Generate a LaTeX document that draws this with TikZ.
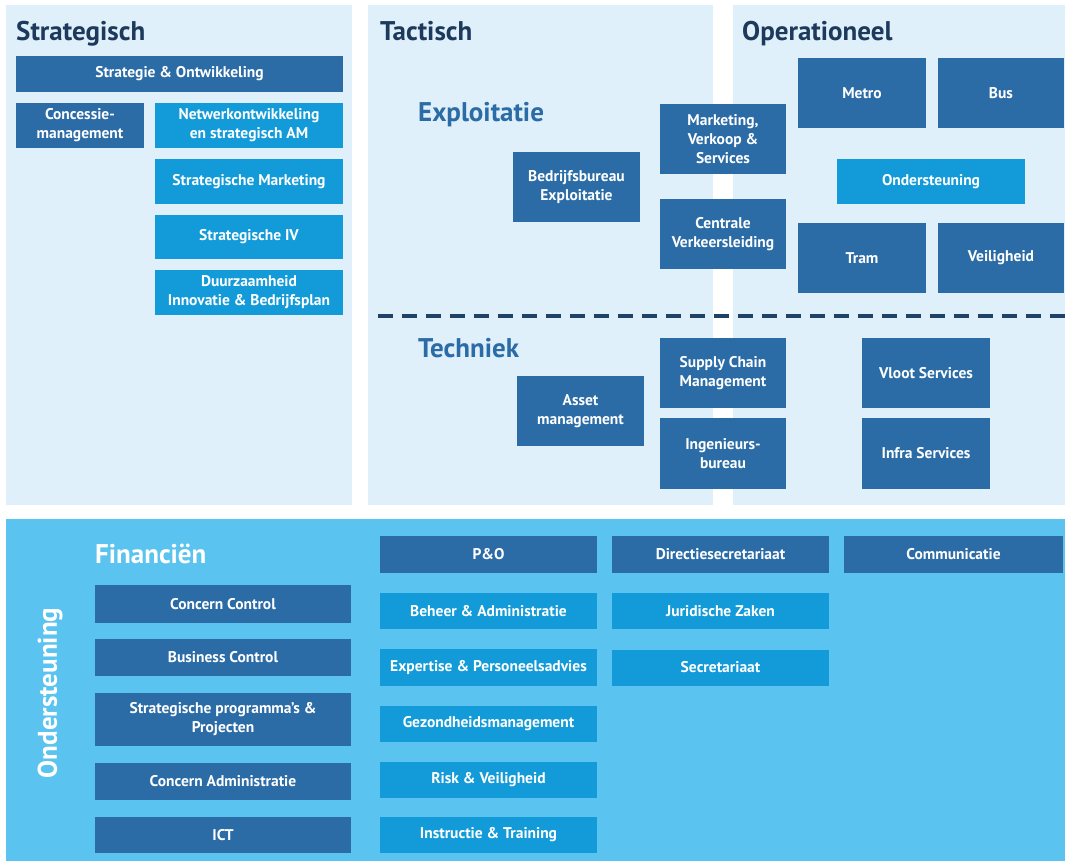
\documentclass[tikz,border=0pt]{standalone}
\usepackage{fontspec}
\setmainfont{PT Sans}
\usepackage{tikz}
\usetikzlibrary{positioning}
\definecolor{panellight}{HTML}{DFF0FB}
\definecolor{panelsupport}{HTML}{5BC3EF}
\definecolor{unitdark}{HTML}{2B6CA6}
\definecolor{unitbright}{HTML}{129BD8}
\definecolor{titlenavy}{HTML}{1D3A5C}
\tikzset{
x=1pt, y=-1pt, % one unit is one pixel of the layout
unit/.style={rectangle, fill=unitdark, text=white, inner sep=1pt, align=center, font=\bfseries\fontsize{15.5}{19}\selectfont}, % sets the properties for each department box
subunit/.style={unit, fill=unitbright}, % lighter boxes
wide/.style={minimum width=#1pt},
tall/.style={minimum height=#1pt},
layer/.style={anchor=base west, inner sep=0pt, text=titlenavy, font=\bfseries\fontsize{27}{30}\selectfont}, % headings of the three levels
cluster/.style={layer, text=unitdark}, % Exploitatie and Techniek
}

\begin{document}
\begin{tikzpicture}
      \useasboundingbox (0,0) rectangle (1065,861);
      \fill[white] (0,0) rectangle (1065,861);
      \fill[panellight] (6,5) rectangle (352,505);
      \fill[panellight] (368,5) rectangle (713,505);
      \fill[panellight] (733,5) rectangle (1065,505);
      \fill[panelsupport] (6,519) rectangle (1065,861);

      % Strategisch
      \node[layer] (strategisch) at (16,41) {Strategisch};
      \node[unit, wide=327, tall=36] (so) at (179.5,74) {Strategie \& Ontwikkeling};
      \node[unit, wide=128, tall=45] (cm) at (80,125.5) {Concessie-\\management};
      \node[subunit, wide=188, tall=45] (nw) at (249,125.5) {Netwerkontwikkeling\\en strategisch AM};
      \node[subunit, wide=188, tall=45] (sm) at (249,181.5) {Strategische Marketing};
      \node[subunit, wide=188, tall=44] (siv) at (249,237) {Strategische IV};
      \node[subunit, wide=188, tall=45] (dib) at (249,292.5) {Duurzaamheid\\Innovatie \& Bedrijfsplan};

      % Tactisch en Operationeel
      \node[layer] (tactisch) at (380,41) {Tactisch};
      \node[layer] (operationeel) at (742,41) {Operationeel};
      \node[cluster] (exploitatie) at (418,122) {Exploitatie};
      \node[unit, wide=127, tall=70] (bbe) at (576.5,187) {Bedrijfsbureau\\Exploitatie};
      \node[unit, wide=126, tall=70] (mvs) at (723,139) {Marketing,\\Verkoop \&\\Services};
      \node[unit, wide=126, tall=70] (cvl) at (723,234) {Centrale\\Verkeersleiding};
      \node[unit, wide=128, tall=70] (metro) at (862,93) {Metro};
      \node[unit, wide=126, tall=70] (bus) at (1001,93) {Bus};
      \node[subunit, wide=188, tall=45] (ost) at (931,181.5) {Ondersteuning};
      \node[unit, wide=128, tall=70] (tram) at (862,258) {Tram};
      \node[unit, wide=126, tall=70] (veil) at (1001,258) {Veiligheid};

      \coordinate (split-l) at (378,316);
      \coordinate (split-r) at (1065,316);
      \draw[titlenavy!85!unitdark, line width=3.5pt, dash pattern=on 15pt off 9pt] (split-l) -- (split-r);

      \node[cluster] (techniek) at (418,357) {Techniek};
      \node[unit, wide=127, tall=70] (am) at (580.5,411) {Asset\\management};
      \node[unit, wide=126, tall=70] (scm) at (723,373) {Supply Chain\\Management};
      \node[unit, wide=126, tall=71] (ib) at (723,453.5) {Ingenieurs-\\bureau};
      \node[unit, wide=128, tall=70] (vs) at (926,373) {Vloot Services};
      \node[unit, wide=128, tall=71] (is) at (926,453.5) {Infra Services};

      % Ondersteuning
      \node[layer, anchor=center, text=white, rotate=90] (ondersteuning) at (50,693) {Ondersteuning};
      \node[layer, text=white] (financien) at (95,563) {Financiën};
      \node[unit, wide=256, tall=38] (cc) at (223,604) {Concern Control};
      \node[unit, wide=256, tall=37] (bc) at (223,657.5) {Business Control};
      \node[unit, wide=256, tall=53] (spp) at (223,719.5) {Strategische programma's \&\\Projecten};
      \node[unit, wide=256, tall=37] (ca) at (223,781.5) {Concern Administratie};
      \node[unit, wide=256, tall=36] (ict) at (223,835) {ICT};

      \node[unit, wide=217, tall=37] (po) at (488.5,554.5) {P\&O};
      \node[subunit, wide=217, tall=36] (ba) at (488.5,611) {Beheer \& Administratie};
      \node[subunit, wide=217, tall=37] (ep) at (488.5,667.5) {Expertise \& Personeelsadvies};
      \node[subunit, wide=217, tall=36] (gm) at (488.5,724) {Gezondheidsmanagement};
      \node[subunit, wide=217, tall=36] (rv) at (488.5,780) {Risk \& Veiligheid};
      \node[subunit, wide=217, tall=36] (it) at (488.5,835) {Instructie \& Training};

      \node[unit, wide=217, tall=37] (ds) at (720.5,554.5) {Directiesecretariaat};
      \node[subunit, wide=217, tall=36] (jz) at (720.5,611) {Juridische Zaken};
      \node[subunit, wide=217, tall=36] (sec) at (720.5,667.5) {Secretariaat};
      \node[unit, wide=219, tall=37] (com) at (953.5,554.5) {Communicatie};
    \end{tikzpicture}
\end{document}
